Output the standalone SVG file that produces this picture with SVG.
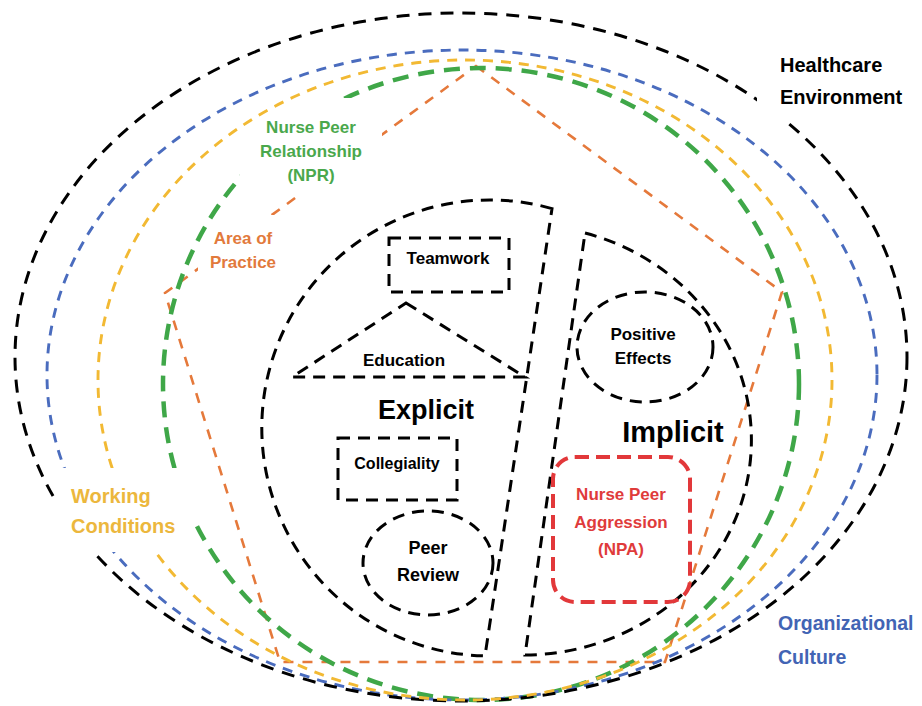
<svg xmlns="http://www.w3.org/2000/svg" width="922" height="706" viewBox="0 0 922 706">
<style>
  text { font-family: "Liberation Sans", Arial, sans-serif; font-weight: bold; }
  .c { text-anchor: middle; }
  .mask { fill: #fff; stroke: none; }
  .blk { fill: none; stroke: #000; stroke-width: 3; stroke-dasharray: 13 9; }
  .blu { fill: none; stroke: #4a6cbe; stroke-width: 2.9; stroke-dasharray: 10 8; }
  .yel { fill: none; stroke: #f2b933; stroke-width: 2.9; stroke-dasharray: 10 8; }
  .grn { fill: none; stroke: #3fa748; stroke-width: 4.5; stroke-dasharray: 16 10; }
  .org { fill: none; stroke: #e5793b; stroke-width: 2.6; stroke-dasharray: 10 9; }
  .in { fill: none; stroke: #000; stroke-width: 3; stroke-dasharray: 12 8; }
  .red { fill: none; stroke: #e2383a; stroke-width: 4; stroke-dasharray: 14 7; }
</style>
<rect width="922" height="706" fill="#fff"/>

<g id="area-of-practice">
  <polygon class="org" points="476,66 782,292 665,662 280,662 165,293"/>
  <rect class="mask" x="198" y="215" width="87" height="57"/>
  <text class="c" x="243" y="244" font-size="17" fill="#e27a3c">Area of</text>
  <text class="c" x="243" y="268" font-size="17" fill="#e27a3c">Practice</text>
</g>

<g id="nurse-peer-relationship">
  <ellipse class="grn" cx="481" cy="384" rx="318" ry="316"/>
  <rect class="mask" x="240" y="98" width="142" height="97"/>
  <text class="c" x="311" y="133" font-size="17" fill="#4aa84c">Nurse Peer</text>
  <text class="c" x="311" y="157" font-size="17" fill="#4aa84c">Relationship</text>
  <text class="c" x="311" y="181" font-size="17" fill="#4aa84c">(NPR)</text>
</g>

<g id="organizational-culture">
  <ellipse class="blu" cx="462" cy="375" rx="415" ry="325"/>
  <text x="778" y="630" font-size="19.5" fill="#4264b4">Organizational</text>
  <text x="778" y="664" font-size="19.5" fill="#4264b4">Culture</text>
</g>

<g id="healthcare-environment">
  <ellipse class="blk" cx="461" cy="357" rx="446" ry="344"/>
  <rect class="mask" x="757" y="45" width="160" height="77"/>
  <text x="780" y="72" font-size="20" fill="#000">Healthcare</text>
  <text x="780" y="104" font-size="20" fill="#000">Environment</text>
</g>

<g id="working-conditions">
  <ellipse class="yel" cx="465" cy="380" rx="367" ry="320"/>
  <rect class="mask" x="55" y="468" width="140" height="84"/>
  <text x="71" y="503" font-size="20" fill="#ecb73d">Working</text>
  <text x="71" y="533" font-size="20" fill="#ecb73d">Conditions</text>
</g>

<g id="explicit">
  <path class="in" d="M552,208.6 A228,228 0 1 0 485,655.9 Z"/>
  <text class="c" x="426" y="419" font-size="27">Explicit</text>
</g>

<g id="implicit">
  <path class="in" d="M585,233 A228,215 0 0 1 525,655 Z"/>
  <text class="c" x="673" y="442" font-size="29">Implicit</text>
</g>

<g id="teamwork">
  <rect class="in" x="389" y="238" width="120" height="54"/>
  <text class="c" x="448" y="264" font-size="17">Teamwork</text>
</g>

<g id="education">
  <polygon class="in" points="406,303 525,377 292,377" stroke-width="3.6"/>
  <text class="c" x="404" y="366" font-size="17">Education</text>
</g>

<g id="collegiality">
  <rect class="in" x="338" y="438" width="119" height="62"/>
  <text class="c" x="397" y="469" font-size="16">Collegiality</text>
</g>

<g id="peer-review">
  <ellipse class="in" cx="428" cy="563" rx="65" ry="52"/>
  <text class="c" x="428" y="554" font-size="18">Peer</text>
  <text class="c" x="428" y="581" font-size="18">Review</text>
</g>

<g id="positive-effects">
  <ellipse class="in" cx="645" cy="347" rx="68" ry="55"/>
  <text class="c" x="643" y="340" font-size="17">Positive</text>
  <text class="c" x="643" y="364" font-size="17">Effects</text>
</g>

<g id="nurse-peer-aggression">
  <rect class="red" x="553" y="457" width="137" height="145" rx="22" ry="22"/>
  <text class="c" x="621" y="500" font-size="17" fill="#df3b3b">Nurse Peer</text>
  <text class="c" x="621" y="528" font-size="17" fill="#df3b3b">Aggression</text>
  <text class="c" x="621" y="555" font-size="17" fill="#df3b3b">(NPA)</text>
</g>

<g id="connectors"></g>
</svg>
